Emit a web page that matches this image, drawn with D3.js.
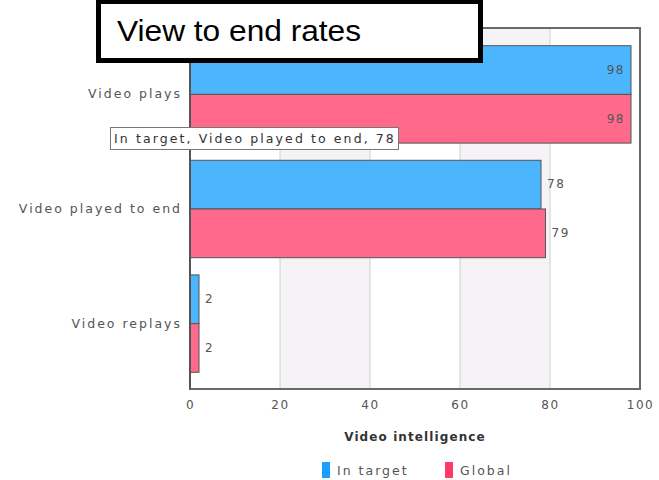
<!DOCTYPE html>
<html>
<head>
<meta charset="utf-8">
<script src="https://cdn.jsdelivr.net/npm/d3@7"></script>
<style>
  html, body { margin: 0; padding: 0; background: #fff; }
  svg { display: block; }
</style>
</head>
<body>
<svg id="chart" width="659" height="480"></svg>
<script>
// Data
const categories = ["Video plays", "Video played to end", "Video replays"];
const seriesNames = ["In target", "Global"];
const inTarget = [98, 78, 2];
const globalVals = [98, 79, 2];
const xTicks = [0, 20, 40, 60, 80, 100];
const titleText = "View to end rates";
const axisTitle = "Video intelligence";

const barColors = ["#4bb6fd", "#ff6a8c"];
const swatchColors = ["#1a9dff", "#ff3a6a"];

const svg = d3.select("#chart");
const plot = { left: 190, right: 640, top: 28, bottom: 389 };

const x = d3.scaleLinear().domain([0, 100]).range([plot.left, plot.right]);
const y0 = d3.scaleBand().domain(categories)
  .range([plot.top, plot.bottom]).paddingInner(0.15).paddingOuter(0.15);
const y1 = d3.scaleBand().domain(seriesNames).range([0, y0.bandwidth()]);

const rows = categories.map((c, i) => ({
  cat: c,
  vals: [
    { series: seriesNames[0], value: inTarget[i], color: barColors[0] },
    { series: seriesNames[1], value: globalVals[i], color: barColors[1] }
  ]
}));

const font = "'DejaVu Sans', Verdana, sans-serif";

// Alternating background bands
const bandPairs = d3.pairs(xTicks).filter((d, i) => i % 2 === 1);
svg.append("g").selectAll("rect").data(bandPairs).join("rect")
  .attr("x", d => x(d[0])).attr("width", d => x(d[1]) - x(d[0]))
  .attr("y", plot.top).attr("height", plot.bottom - plot.top)
  .attr("fill", "#f5f3f5");

// Vertical grid lines
svg.append("g").selectAll("line").data(xTicks.slice(1, -1)).join("line")
  .attr("x1", d => x(d)).attr("x2", d => x(d))
  .attr("y1", plot.top).attr("y2", plot.bottom)
  .attr("stroke", "#d0d0d0").attr("stroke-width", 1);

// Bars
const groups = svg.append("g").selectAll("g").data(rows).join("g")
  .attr("transform", d => `translate(0,${y0(d.cat)})`);

groups.selectAll("rect").data(d => d.vals).join("rect")
  .attr("x", x(0))
  .attr("y", d => y1(d.series) + 0.5)
  .attr("width", d => x(d.value) - x(0))
  .attr("height", y1.bandwidth())
  .attr("fill", d => d.color)
  .attr("stroke", "#555").attr("stroke-width", 1);

// Value labels: inside the bar when it would run past the frame
groups.selectAll("text").data(d => d.vals).join("text")
  .attr("x", d => x(d.value) + (x(d.value) + 30 > plot.right ? -6 : 6))
  .attr("text-anchor", d => x(d.value) + 30 > plot.right ? "end" : "start")
  .attr("y", d => y1(d.series) + y1.bandwidth() / 2)
  .attr("dy", "0.36em")
  .attr("font-family", font).attr("font-size", 12)
  .attr("letter-spacing", "1.5px")
  .attr("fill", "#555")
  .text(d => d.value);

// Plot frame
svg.append("rect")
  .attr("x", plot.left).attr("y", plot.top)
  .attr("width", plot.right - plot.left).attr("height", plot.bottom - plot.top)
  .attr("fill", "none").attr("stroke", "#6a6a6a").attr("stroke-width", 2);

// Category axis
const yAxis = svg.append("g")
  .attr("transform", `translate(${plot.left},0)`)
  .call(d3.axisLeft(d3.scalePoint().domain(categories)
      .range([y0(categories[0]) + y0.bandwidth() / 2,
              y0(categories[categories.length - 1]) + y0.bandwidth() / 2]))
    .tickSize(0).tickPadding(8));
yAxis.select(".domain").attr("stroke", "#555").attr("stroke-width", 2)
  .attr("d", `M0,${plot.top}V${plot.bottom}`);
yAxis.selectAll("text")
  .attr("font-family", font).attr("font-size", 12.5)
  .attr("letter-spacing", "2px").attr("fill", "#555");

// Value axis
const xAxis = svg.append("g")
  .attr("transform", `translate(0,${plot.bottom})`)
  .call(d3.axisBottom(x).tickValues(xTicks).tickSize(0).tickPadding(11));
xAxis.select(".domain").remove();
xAxis.selectAll("text")
  .attr("font-family", font).attr("font-size", 12)
  .attr("letter-spacing", "1.6px").attr("fill", "#555");

svg.append("text")
  .attr("x", (plot.left + plot.right) / 2).attr("y", 441)
  .attr("text-anchor", "middle")
  .attr("font-family", font).attr("font-size", 12).attr("font-weight", "bold")
  .attr("letter-spacing", "1.1px").attr("fill", "#333")
  .text(axisTitle);

// Legend
const legendItems = [
  { name: seriesNames[0], color: swatchColors[0], x: 322 },
  { name: seriesNames[1], color: swatchColors[1], x: 445 }
];
const lg = svg.append("g").selectAll("g").data(legendItems).join("g")
  .attr("transform", d => `translate(${d.x},462)`);
lg.append("rect").attr("width", 8).attr("height", 16).attr("fill", d => d.color);
lg.append("text").attr("x", 15).attr("y", 13)
  .attr("font-family", font).attr("font-size", 12.5)
  .attr("letter-spacing", "2px").attr("fill", "#555")
  .text(d => d.name);

// Hover tooltip for the "In target" / "Video played to end" bar
const tipText = `${seriesNames[0]}, ${categories[1]}, ${inTarget[1]}`;
const tip = svg.append("g").attr("transform", "translate(110,127)");
tip.append("rect").attr("x", 0.5).attr("y", 0.5).attr("width", 288).attr("height", 22)
  .attr("fill", "#fff").attr("stroke", "#777").attr("stroke-width", 1);
tip.append("text").attr("x", 4).attr("y", 16)
  .attr("font-family", font).attr("font-size", 12.5)
  .attr("letter-spacing", "2.1px").attr("fill", "#333")
  .text(tipText);

// Title box
svg.append("rect")
  .attr("x", 98.5).attr("y", 1.5).attr("width", 382).attr("height", 59)
  .attr("fill", "#fff").attr("stroke", "#000").attr("stroke-width", 5);
svg.append("text")
  .attr("x", 117).attr("y", 41)
  .attr("font-family", "'Liberation Sans', Arial, sans-serif").attr("font-size", 29)
  .attr("textLength", 244).attr("lengthAdjust", "spacingAndGlyphs")
  .attr("fill", "#000")
  .text(titleText);
</script>
</body>
</html>
